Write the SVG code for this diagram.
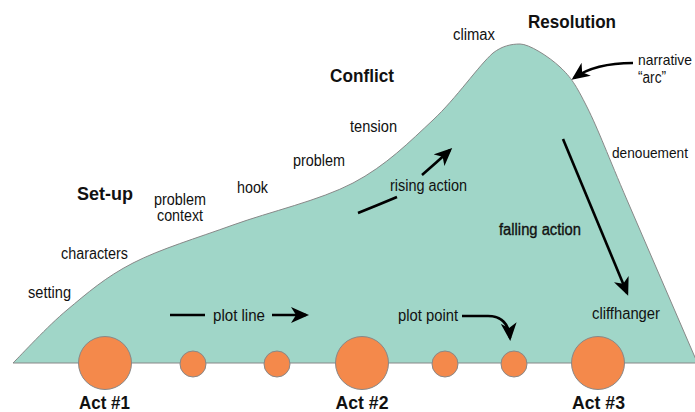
<svg xmlns="http://www.w3.org/2000/svg" width="695" height="412" viewBox="0 0 695 412">
<style>
.t{font-family:"Liberation Sans",Arial,sans-serif;font-size:16px;fill:#111}
.b{font-family:"Liberation Sans",Arial,sans-serif;font-size:18.5px;font-weight:bold;fill:#111}
.ln{fill:none;stroke:#000;stroke-width:2.6}
.dot{fill:#f4894b;stroke:#888;stroke-width:1}
</style>
<defs>
<marker id="ah" markerUnits="userSpaceOnUse" markerWidth="18" markerHeight="16" refX="15" refY="8" orient="auto" viewBox="0 0 18 16">
<path d="M0,0 L18,8 L0,16 L5,8 Z" fill="#000"/>
</marker>
</defs>
<rect width="695" height="412" fill="#fff"/>
<g id="arc">
<path d="M13,363 C22,354.2 47,326.7 67,310 C87,293.3 105.3,277.2 133,263 C160.7,248.8 196.3,238.3 233,225 C269.7,211.7 319.7,200.5 353,183 C386.3,165.5 409.7,141.7 433,120 C456.3,98.3 478.5,65.7 493,53 C502,46 511,44 520,44 C529,44 548.8,56.5 560,67 C571.2,77.5 575.8,84.8 587,107 C598.2,129.2 608.7,157.5 627,200 L697,362 L697,363 Z" fill="#a0d6c8" stroke="#888" stroke-width="1"/>
</g>
<g id="connectors">
<path class="ln" d="M358,213 Q378,205 397,197"/>
<path class="ln" d="M422,175 Q437,162 450,150" marker-end="url(#ah)"/>
<path class="ln" d="M633,63 Q595,63 574,78" marker-end="url(#ah)"/>
<path class="ln" d="M563,139 L627,293" marker-end="url(#ah)"/>
<path class="ln" d="M170,315 L205,315"/>
<path class="ln" d="M272,315 L306,315" marker-end="url(#ah)"/>
<path class="ln" d="M462,316 L488,316 Q508,316 510,338" marker-end="url(#ah)"/>
</g>
<g id="act1"><circle class="dot" cx="105" cy="363" r="26.5"/><text class="b" x="104.5" y="409" text-anchor="middle" textLength="51" lengthAdjust="spacingAndGlyphs">Act #1</text></g>
<g id="p1"><circle class="dot" cx="193" cy="364" r="13"/></g>
<g id="p2"><circle class="dot" cx="277" cy="364" r="13"/></g>
<g id="act2"><circle class="dot" cx="362" cy="363" r="26.5"/><text class="b" x="362" y="409" text-anchor="middle" textLength="53" lengthAdjust="spacingAndGlyphs">Act #2</text></g>
<g id="p3"><circle class="dot" cx="445" cy="364" r="13"/></g>
<g id="p4"><circle class="dot" cx="514" cy="364" r="13"/></g>
<g id="act3"><circle class="dot" cx="598" cy="363" r="26.5"/><text class="b" x="598.5" y="409" text-anchor="middle" textLength="53" lengthAdjust="spacingAndGlyphs">Act #3</text></g>
<g id="labels">
<text class="b" x="77" y="200" textLength="56" lengthAdjust="spacingAndGlyphs">Set-up</text>
<text class="b" x="330" y="82" textLength="64" lengthAdjust="spacingAndGlyphs">Conflict</text>
<text class="b" x="528" y="28" textLength="88" lengthAdjust="spacingAndGlyphs">Resolution</text>
<text class="t" x="453" y="40" textLength="42" lengthAdjust="spacingAndGlyphs">climax</text>
<text class="t" x="638" y="65" style="font-size:14.5px" textLength="54" lengthAdjust="spacingAndGlyphs">narrative</text>
<text class="t" x="638" y="83" textLength="28" lengthAdjust="spacingAndGlyphs">“arc”</text>
<text class="t" x="350" y="132" textLength="47" lengthAdjust="spacingAndGlyphs">tension</text>
<text class="t" x="612" y="158" style="font-size:14px" textLength="76" lengthAdjust="spacingAndGlyphs">denouement</text>
<text class="t" x="390" y="191" textLength="77" lengthAdjust="spacingAndGlyphs">rising action</text>
<text class="t" x="293" y="166" textLength="52" lengthAdjust="spacingAndGlyphs">problem</text>
<text class="t" x="237" y="193" textLength="31" lengthAdjust="spacingAndGlyphs">hook</text>
<text class="t" x="154" y="205" textLength="52" lengthAdjust="spacingAndGlyphs">problem</text>
<text class="t" x="157" y="221" textLength="46" lengthAdjust="spacingAndGlyphs">context</text>
<text class="t" x="61" y="259" textLength="67" lengthAdjust="spacingAndGlyphs">characters</text>
<text class="t" x="28" y="298" textLength="43" lengthAdjust="spacingAndGlyphs">setting</text>
<text class="t" x="213" y="321" textLength="52" lengthAdjust="spacingAndGlyphs">plot line</text>
<text class="t" x="499" y="235" textLength="82" lengthAdjust="spacingAndGlyphs" style="stroke:#111;stroke-width:0.35">falling action</text>
<text class="t" x="398" y="321" textLength="60" lengthAdjust="spacingAndGlyphs">plot point</text>
<text class="t" x="592" y="319" textLength="68" lengthAdjust="spacingAndGlyphs">cliffhanger</text>
</g>
</svg>
